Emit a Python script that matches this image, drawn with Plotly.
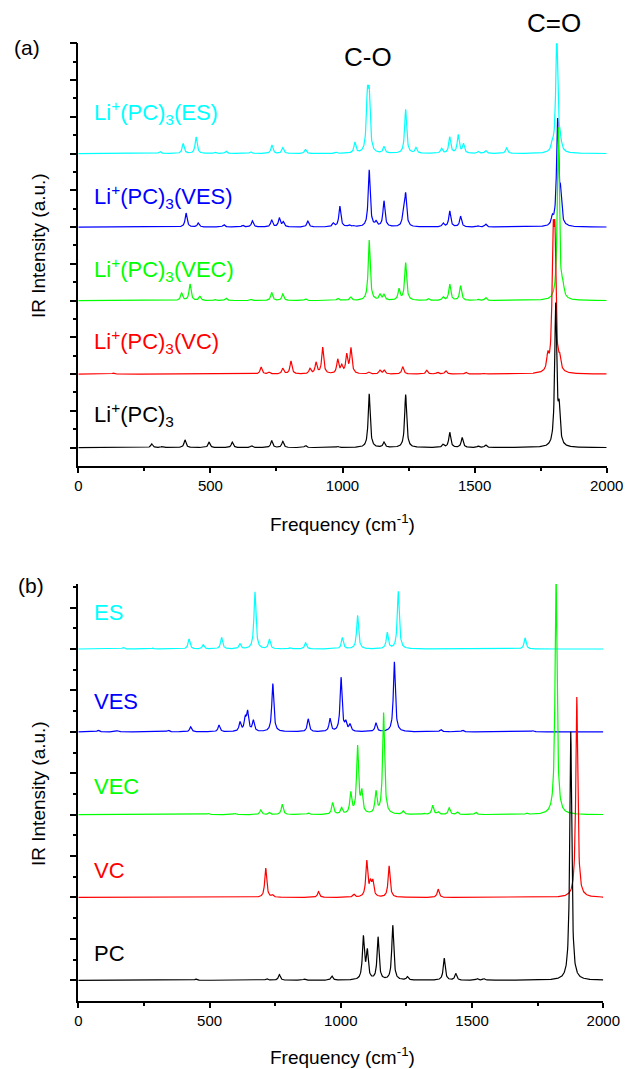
import numpy as np
import plotly.graph_objects as go

# ---------------- data: peak centres (cm-1) and heights (a.u.) ----------------
# Panel (a): Li+ complexes
a_PC3_pos = [278, 317, 404, 495, 583, 656, 732, 774, 860, 982, 1101, 1157, 1239, 1381, 1406, 1453, 1514, 1542, 1807, 1820]
a_PC3_hgt = [0.10, 0.03, 0.21, 0.145, 0.15, 0.05, 0.19, 0.17, 0.06, 0.03, 1.46, 0.14, 1.44, 0.08, 0.41, 0.27, 0.04, 0.07, 3.85, 0.9]

a_VC_pos = [133, 692, 722, 774, 805, 877, 900, 925, 982, 997, 1016, 1032, 1100, 1142, 1158, 1228, 1319, 1360, 1391, 1467, 1533, 1777, 1797, 1804, 1822]
a_VC_hgt = [0.03, 0.19, 0.05, 0.15, 0.35, 0.14, 0.30, 0.72, 0.38, 0.20, 0.50, 0.68, 0.05, 0.10, 0.10, 0.20, 0.10, 0.05, 0.09, 0.05, 0.03, 0.40, 3.19, 3.19, 0.30]

a_VEC_pos = [107, 391, 423, 460, 517, 559, 652, 732, 774, 860, 982, 1002, 1031, 1101, 1142, 1157, 1214, 1239, 1325, 1381, 1406, 1447, 1514, 1542, 1817, 1834]
a_VEC_hgt = [0.02, 0.20, 0.45, 0.11, 0.03, 0.07, 0.04, 0.22, 0.18, 0.05, 0.06, 0.03, 0.09, 1.64, 0.15, 0.15, 0.30, 1.02, 0.05, 0.09, 0.44, 0.40, 0.03, 0.08, 4.7, 0.28]

a_VES_pos = [101, 408, 454, 551, 622, 659, 732, 761, 776, 869, 965, 990, 1025, 1041, 1101, 1127, 1157, 1230, 1239, 1381, 1406, 1447, 1514, 1542, 1794, 1814, 1825]
a_VES_hgt = [0.02, 0.38, 0.11, 0.07, 0.05, 0.17, 0.19, 0.24, 0.13, 0.16, 0.10, 0.56, 0.05, 0.03, 1.55, 0.12, 0.70, 0.30, 0.88, 0.10, 0.43, 0.29, 0.03, 0.08, 0.20, 2.85, 0.75]

a_ES_pos = [309, 397, 446, 517, 559, 652, 733, 774, 860, 978, 1047, 1094, 1101, 1157, 1239, 1278, 1375, 1406, 1438, 1458, 1514, 1542, 1621, 1794, 1811, 1824]
a_ES_hgt = [0.06, 0.27, 0.45, 0.04, 0.07, 0.05, 0.23, 0.16, 0.11, 0.03, 0.29, 1.42, 1.42, 0.17, 1.20, 0.15, 0.13, 0.44, 0.50, 0.25, 0.05, 0.08, 0.15, 0.20, 3.3, 0.30]

# Panel (b): isolated molecules
b_PC_pos = [448, 718, 766, 862, 966, 1086, 1101, 1142, 1198, 1254, 1394, 1438, 1520, 1545, 1876]
b_PC_hgt = [0.03, 0.04, 0.14, 0.03, 0.10, 1.02, 0.67, 1.03, 1.32, 0.08, 0.53, 0.16, 0.04, 0.04, 6.0]

b_VC_pos = [714, 740, 915, 1050, 1099, 1113, 1122, 1184, 1371, 1899]
b_VC_hgt = [0.71, 0.05, 0.14, 0.07, 0.86, 0.30, 0.35, 0.76, 0.20, 4.84]

b_VEC_pos = [495, 597, 695, 728, 777, 876, 969, 1003, 1038, 1064, 1080, 1134, 1163, 1238, 1317, 1350, 1371, 1413, 1444, 1514, 1708, 1820]
b_VEC_hgt = [0.03, 0.03, 0.11, 0.05, 0.25, 0.04, 0.28, 0.15, 0.50, 1.62, 0.50, 0.52, 2.45, 0.08, 0.03, 0.22, 0.06, 0.16, 0.06, 0.06, 0.03, 5.8]

b_VES_pos = [76, 149, 343, 428, 536, 616, 636, 645, 667, 741, 876, 959, 1001, 1019, 1035, 1134, 1204, 1381, 1464, 1731]
b_VES_hgt = [0.04, 0.03, 0.04, 0.12, 0.16, 0.22, 0.30, 0.45, 0.26, 1.16, 0.31, 0.31, 1.30, 0.20, 0.16, 0.21, 1.69, 0.06, 0.04, 0.03]

b_ES_pos = [171, 283, 422, 476, 546, 616, 673, 728, 806, 866, 1006, 1064, 1177, 1219, 1702]
b_ES_hgt = [0.04, 0.02, 0.24, 0.10, 0.28, 0.12, 1.38, 0.23, 0.03, 0.15, 0.27, 0.81, 0.39, 1.39, 0.27]

offsets = [0.5, 2.5, 4.5, 6.5, 8.5]
x_ticks = [0, 500, 1000, 1500, 2000]

# ---------------- build figure ----------------
W, H = 626, 1069
HWHM = 4.5
freq = np.arange(0, 2000.5, 1.0)


def spectrum(pos, hgt):
    p = np.asarray(pos, float)[:, None]
    h = np.asarray(hgt, float)[:, None]
    return (h * HWHM**2 / ((freq[None, :] - p) ** 2 + HWHM**2)).sum(axis=0)


colors = {"ES": "#00FFFF", "VES": "#0000FF", "VEC": "#00FF00", "VC": "#FF0000", "PC": "#000000"}

panel_a = [("ES", a_ES_pos, a_ES_hgt, offsets[4]),
           ("VES", a_VES_pos, a_VES_hgt, offsets[3]),
           ("VEC", a_VEC_pos, a_VEC_hgt, offsets[2]),
           ("VC", a_VC_pos, a_VC_hgt, offsets[1]),
           ("PC", a_PC3_pos, a_PC3_hgt, offsets[0])]
panel_b = [("ES", b_ES_pos, b_ES_hgt, offsets[4]),
           ("VES", b_VES_pos, b_VES_hgt, offsets[3]),
           ("VEC", b_VEC_pos, b_VEC_hgt, offsets[2]),
           ("VC", b_VC_pos, b_VC_hgt, offsets[1]),
           ("PC", b_PC_pos, b_PC_hgt, offsets[0])]

fig = go.Figure()
for key, pos, hgt, off in panel_a:
    fig.add_trace(go.Scatter(x=freq, y=off + spectrum(pos, hgt), mode="lines",
                             line=dict(color=colors[key], width=1.2),
                             xaxis="x", yaxis="y", showlegend=False, hoverinfo="skip"))
for key, pos, hgt, off in panel_b:
    fig.add_trace(go.Scatter(x=freq, y=off + spectrum(pos, hgt), mode="lines",
                             line=dict(color=colors[key], width=1.2),
                             xaxis="x2", yaxis="y2", showlegend=False, hoverinfo="skip"))

FONT = "Liberation Sans, Arial, Helvetica, sans-serif"


def px(x):
    return x / W


def py(y):
    return 1 - y / H


xcommon = dict(range=[0, 2000], tickvals=x_ticks, ticktext=[str(t) for t in x_ticks],
               ticks="outside", ticklen=5, tickwidth=1.5, tickcolor="black",
               showline=True, linecolor="black", linewidth=1.5, mirror=False,
               showgrid=False, zeroline=False, automargin=False,
               tickfont=dict(family=FONT, size=15, color="black"),
               minor=dict(tickvals=[250, 750, 1250, 1750], ticks="outside", ticklen=3,
                          tickwidth=1.5, tickcolor="black", showgrid=False))


def ycommon(top, nmaj):
    return dict(range=[0, top], tickvals=[0.5 + k for k in range(nmaj)],
                showticklabels=False, ticks="outside", ticklen=7, tickwidth=1.5,
                tickcolor="black", showline=True, linecolor="black", linewidth=1.5,
                showgrid=False, zeroline=False, automargin=False,
                minor=dict(tickvals=[float(k) for k in range(1, int(top) + 1)], ticks="outside",
                           ticklen=4, tickwidth=1.5, tickcolor="black", showgrid=False))


fig.update_layout(
    template="none",
    width=W, height=H, autosize=False,
    margin=dict(l=0, r=0, t=0, b=0, pad=0),
    paper_bgcolor="white", plot_bgcolor="white",
    xaxis=dict(domain=[px(78.3), px(606.7)], anchor="y", **xcommon),
    yaxis=dict(domain=[py(466), py(43.3)], anchor="x", **ycommon(11.5, 12)),
    xaxis2=dict(domain=[px(78.3), px(603.3)], anchor="y2", **xcommon),
    yaxis2=dict(domain=[py(1001), py(584)], anchor="x2", **ycommon(10.07, 10)),
)

ann = []


def text(x, y, s, size, color="black", xanchor="left", angle=0):
    ann.append(dict(x=px(x), y=py(y), xref="paper", yref="paper", text=s, showarrow=False,
                    xanchor=xanchor, yanchor="middle", textangle=angle,
                    font=dict(family=FONT, size=size, color=color)))


# panel labels
text(12, 47, "(a)", 21)
text(16, 585, "(b)", 21)
text(368, 57, "C-O", 26, xanchor="center")
text(554, 23, "C=O", 26, xanchor="center")

# series labels panel (a)
text(92, 113, "Li<sup>+</sup>(PC)<sub>3</sub>(ES)", 22, colors["ES"])
text(92, 197, "Li<sup>+</sup>(PC)<sub>3</sub>(VES)", 22, colors["VES"])
text(92, 270, "Li<sup>+</sup>(PC)<sub>3</sub>(VEC)", 22, colors["VEC"])
text(92, 341, "Li<sup>+</sup>(PC)<sub>3</sub>(VC)", 22, colors["VC"])
text(92, 414, "Li<sup>+</sup>(PC)<sub>3</sub>", 22, colors["PC"])

# series labels panel (b)
text(92, 612, "ES", 22, colors["ES"])
text(92, 701, "VES", 22, colors["VES"])
text(92, 786, "VEC", 22, colors["VEC"])
text(92, 870, "VC", 22, colors["VC"])
text(92, 953, "PC", 22, colors["PC"])

# axis titles
text(342, 523, "Frequency (cm<sup>-1</sup>)", 19, xanchor="center")
text(342, 1056, "Frequency (cm<sup>-1</sup>)", 19, xanchor="center")
text(38, 246, "IR Intensity (a.u.)", 19, xanchor="center", angle=-90)
text(38, 794, "IR Intensity (a.u.)", 19, xanchor="center", angle=-90)

fig.update_layout(annotations=ann)
fig.write_html("out.html", config={"displayModeBar": False},
               post_script="document.body.style.margin='0';document.body.style.overflow='hidden';")
